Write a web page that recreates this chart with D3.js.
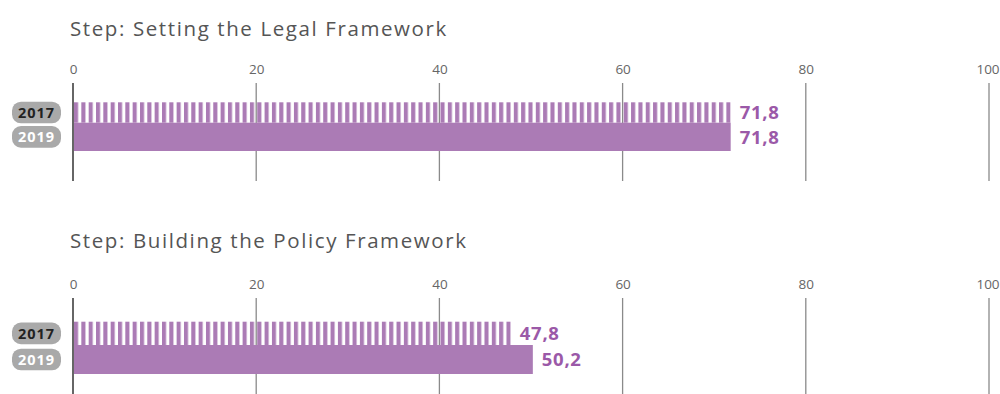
<!DOCTYPE html>
<html>
<head>
<meta charset="utf-8">
<script src="https://cdn.jsdelivr.net/npm/d3@7"></script>
<style>
  html, body { margin: 0; padding: 0; background: #fff; }
  svg { display: block; font-family: "Open Sans", "Noto Sans", sans-serif; }
</style>
</head>
<body>
<svg id="chart" width="1000" height="394"></svg>
<script>
// Scores per step, one array per survey year
const steps = ["Step: Setting the Legal Framework", "Step: Building the Policy Framework"];
const years = ["2017", "2019"];
const scores2017 = [71.8, 47.8];
const scores2019 = [71.8, 50.2];
const tickValues = [0, 20, 40, 60, 80, 100];

const svg = d3.select("#chart");
const purple = "#ab7bb5";
const labelPurple = "#9b59a8";

// Vertical stripes used for the 2017 bars
const defs = svg.append("defs");
defs.append("pattern")
  .attr("id", "stripes")
  .attr("patternUnits", "userSpaceOnUse")
  .attr("x", 74).attr("y", 0)
  .attr("width", 7.33).attr("height", 10)
  .append("rect")
  .attr("x", 0).attr("y", 0)
  .attr("width", 4.1).attr("height", 10)
  .attr("fill", purple);

const x = d3.scaleLinear().domain([0, 100]).range([73, 989]);

// Vertical layout of each panel
const panels = [
  { title: 35.5, tick: 69, gridTop: 83, barTop: 102.3, stripeH: 20.4, solidH: 28.3, gridBottom: 181 },
  { title: 248, tick: 284, gridTop: 298, barTop: 321.7, stripeH: 23.3, solidH: 29, gridBottom: 400 }
];

const fmt = v => d3.format(".1f")(v).replace(".", ",");

steps.forEach((step, i) => {
  const p = panels[i];
  const g = svg.append("g");

  g.append("text")
    .attr("x", 70).attr("y", p.title)
    .attr("fill", "#555")
    .attr("font-size", 20.5)
    .attr("font-weight", 400)
    .attr("letter-spacing", 1.6)
    .text(step);

  // Axis with tick labels and full-height gridlines
  const axis = d3.axisTop(x).tickValues(tickValues).tickSize(0).tickPadding(0).tickFormat(d3.format("d"));
  const ax = g.append("g")
    .attr("transform", `translate(0,${p.tick + 5})`)
    .call(axis);
  ax.select(".domain").remove();
  ax.selectAll("text")
    .attr("fill", "#666")
    .attr("font-size", 13.5)
    .attr("font-family", "\"Open Sans\", sans-serif")
    .attr("font-weight", 400)
    .attr("dx", d => d === 100 ? -1.5 : 0);

  g.selectAll("line.grid")
    .data(tickValues)
    .join("line")
    .attr("class", "grid")
    .attr("x1", d => x(d)).attr("x2", d => x(d))
    .attr("y1", p.gridTop).attr("y2", p.gridBottom)
    .attr("stroke", d => d === 0 ? "#666" : "#8a8a8a")
    .attr("stroke-width", d => d === 0 ? 2 : 1.3);

  const rows = [
    { year: years[0], value: scores2017[i], top: p.barTop, h: p.stripeH, fill: "url(#stripes)", text: "#222" },
    { year: years[1], value: scores2019[i], top: p.barTop + p.stripeH, h: p.solidH, fill: purple, text: "#fff" }
  ];

  rows.forEach(r => {
    g.append("rect")
      .attr("x", x(0) + 1)
      .attr("y", r.top)
      .attr("width", x(r.value) - x(0) - 1)
      .attr("height", r.h)
      .attr("fill", r.fill);

    g.append("text")
      .attr("x", x(r.value) + 9)
      .attr("y", r.top + r.h / 2)
      .attr("dy", "0.36em")
      .attr("fill", labelPurple)
      .attr("font-size", 18.5)
      .attr("font-weight", 700)
      .attr("letter-spacing", 0.7)
      .text(fmt(r.value));

    const cy = r.top + r.h / 2;
    g.append("rect")
      .attr("x", 12).attr("y", cy - 10.8)
      .attr("width", 49).attr("height", 21.6)
      .attr("rx", 9).attr("ry", 9)
      .attr("fill", "#a9a9a9");
    g.append("text")
      .attr("x", 36.5).attr("y", cy)
      .attr("dy", "0.36em")
      .attr("text-anchor", "middle")
      .attr("fill", r.text)
      .attr("font-size", 14.5)
      .attr("font-weight", 700)
      .attr("letter-spacing", 0.9)
      .text(r.year);
  });
});
</script>
</body>
</html>
